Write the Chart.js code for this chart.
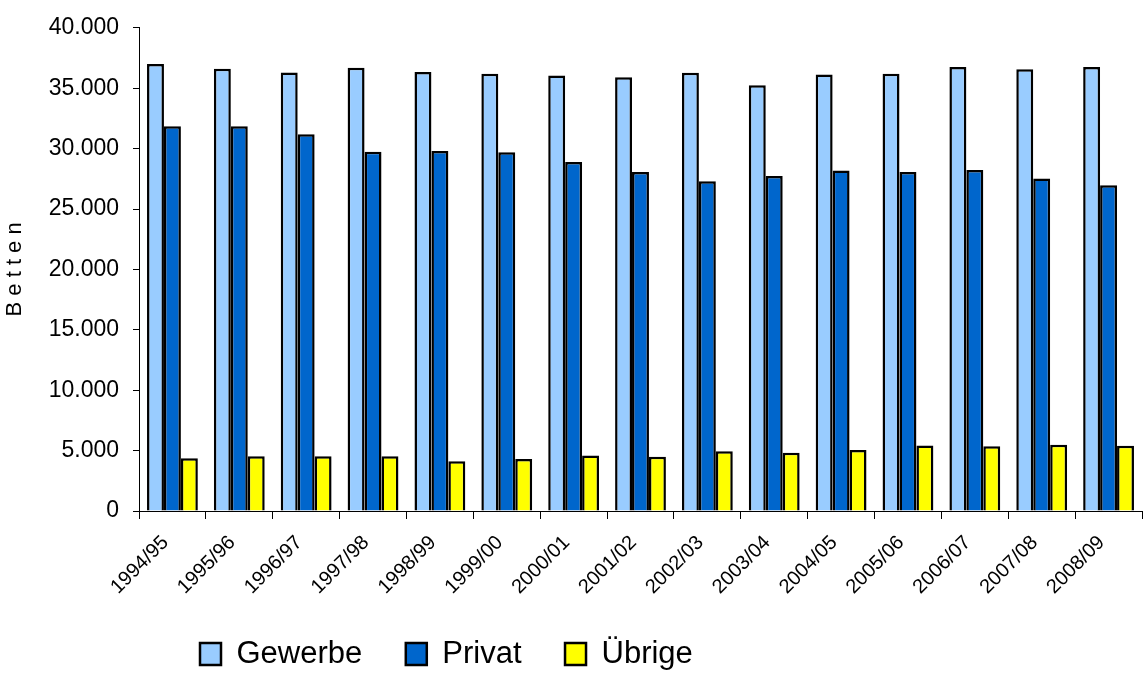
<!DOCTYPE html>
<html>
<head>
<meta charset="utf-8">
<script src="https://cdn.jsdelivr.net/npm/chart.js@4/dist/chart.umd.min.js"></script>
<style>
  body { margin: 0; background: #fff; }
  canvas { display: block; }
</style>
</head>
<body>
<canvas id="myChart" width="1143" height="673"></canvas>
<script>
'use strict';

// data
let seasons = ['1994/95', '1995/96', '1996/97', '1997/98', '1998/99', '1999/00', '2000/01', '2001/02',
  '2002/03', '2003/04', '2004/05', '2005/06', '2006/07', '2007/08', '2008/09'];
let gewerbe = [37000, 36600, 36300, 36700, 36350, 36200, 36050, 35900, 36270, 35250, 36130, 36190, 36760, 36570, 36760];
let privat = [31850, 31850, 31190, 29740, 29800, 29700, 28900, 28070, 27300, 27740, 28180, 28070, 28230, 27520, 26970];
let uebrige = [4360, 4530, 4530, 4530, 4120, 4300, 4600, 4500, 4940, 4830, 5050, 5430, 5350, 5490, 5400];
let yTicks = [0, 5000, 10000, 15000, 20000, 25000, 30000, 35000, 40000];

const FONT = 'Arial, "Liberation Sans", sans-serif';

function formatNum(v){
  return String(v).replace(/\B(?=(\d{3})+(?!\d))/g, '.');
}

// move the legend where the original has it, and let the x labels hang lower
const legendShift = {
  id: 'legendShift',
  afterLayout(chart){
    let lg = chart.legend;
    let w = lg.right - lg.left;
    let h = lg.bottom - lg.top;
    lg.left = 156.5;
    lg.right = lg.left + w;
    lg.top = 595;
    lg.bottom = lg.top + h;
    chart.scales.x.bottom = 625;
  }
};

let ctx = document.getElementById('myChart').getContext('2d');

let myChartObj = {
  type: 'bar',
  data: {
    labels: seasons,
    datasets: [{
      label: 'Gewerbe',
      data: gewerbe,
      backgroundColor: '#99CCFF',
      borderColor: '#000000',
      borderWidth: 2.5,
      borderSkipped: 'bottom'
    },
    {
      label: 'Privat',
      data: privat,
      backgroundColor: '#0066CC',
      borderColor: '#000000',
      borderWidth: 2.5,
      borderSkipped: 'bottom'
    },
    {
      label: 'Übrige',
      data: uebrige,
      backgroundColor: '#FFFF00',
      borderColor: '#000000',
      borderWidth: 2.5,
      borderSkipped: 'bottom'
    }]
  },
  options: {
    responsive: false,
    animation: false,
    layout: {
      padding: { top: 25, right: 1, left: 0, bottom: 0 }
    },
    datasets: {
      bar: {
        categoryPercentage: 0.76,
        barPercentage: 1
      }
    },
    scales: {
      x: {
        grid: {
          offset: true,
          drawOnChartArea: false,
          tickLength: 8,
          color: '#000000'
        },
        border: { color: '#000000', width: 1 },
        ticks: {
          autoSkip: false,
          maxRotation: 45,
          minRotation: 45,
          padding: 12,
          labelOffset: -7,
          color: '#000000',
          font: { family: FONT, size: 20 }
        },
        afterFit(scale){
          scale.height = 77.5;
        }
      },
      y: {
        min: 0,
        max: 40000,
        afterBuildTicks(scale){
          scale.ticks = yTicks.map(v => ({ value: v }));
        },
        grid: {
          drawOnChartArea: false,
          tickLength: 6,
          color: '#000000'
        },
        border: { color: '#000000', width: 1 },
        ticks: {
          padding: 14,
          color: '#000000',
          font: { family: FONT, size: 23 },
          callback: v => formatNum(v)
        },
        title: {
          display: true,
          text: 'B e t t e n',
          color: '#000000',
          font: { family: FONT, size: 22 },
          padding: { top: 2, bottom: 0 }
        },
        afterFit(scale){
          scale.width = 139;
        }
      }
    },
    plugins: {
      legend: {
        position: 'bottom',
        align: 'start',
        labels: {
          boxWidth: 21,
          boxHeight: 22,
          padding: 43.5,
          color: '#000000',
          font: { family: FONT, size: 31 }
        }
      },
      tooltip: { enabled: false }
    }
  },
  plugins: [legendShift]
};

const myChart = new Chart(ctx, myChartObj);
</script>
</body>
</html>
